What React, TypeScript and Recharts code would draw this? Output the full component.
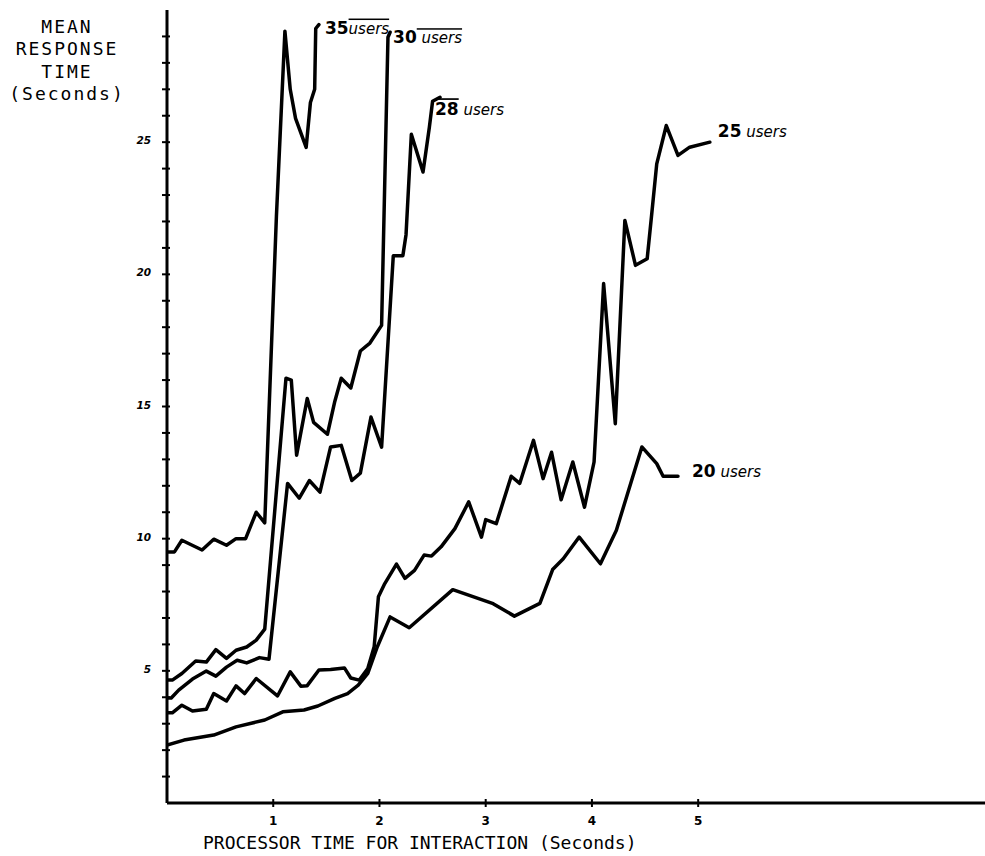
import React from 'react';
import { LineChart, Line, XAxis, YAxis, LabelList } from 'recharts';

// processor time (s) -> mean response time (s)
const users35: [number, number][] = [
  [0, 9.5], [0.07, 9.5], [0.14, 9.94], [0.33, 9.57], [0.44, 9.98], [0.56, 9.75], [0.65, 10.0],
  [0.74, 10.0], [0.84, 11.0], [0.92, 10.6], [1.03, 22.2], [1.11, 29.2], [1.16, 27.0], [1.21, 25.9],
  [1.31, 24.8], [1.35, 26.5], [1.39, 27.0], [1.4, 29.3], [1.43, 29.45],
];

const users30: [number, number][] = [
  [0, 4.65], [0.05, 4.65], [0.14, 4.9], [0.27, 5.37], [0.37, 5.33], [0.46, 5.8], [0.56, 5.47],
  [0.65, 5.78], [0.75, 5.9], [0.84, 6.16], [0.92, 6.58], [1.12, 16.07], [1.17, 16.0], [1.22, 13.16],
  [1.32, 15.3], [1.38, 14.4], [1.51, 13.95], [1.58, 15.2], [1.64, 16.07], [1.73, 15.7], [1.82, 17.1],
  [1.91, 17.4], [2.02, 18.07], [2.08, 28.97], [2.1, 29.16],
];

const users28: [number, number][] = [
  [0, 3.97], [0.04, 3.97], [0.11, 4.27], [0.24, 4.69], [0.37, 4.99], [0.46, 4.8], [0.56, 5.14],
  [0.66, 5.4], [0.75, 5.3], [0.87, 5.5], [0.96, 5.44], [1.135, 12.09], [1.245, 11.53], [1.34, 12.2],
  [1.44, 11.76], [1.54, 13.47], [1.64, 13.53], [1.74, 12.2], [1.82, 12.48], [1.92, 14.6], [2.02, 13.46],
  [2.13, 20.7], [2.22, 20.7], [2.25, 21.5], [2.3, 25.3], [2.41, 23.87], [2.47, 25.57], [2.5, 26.55],
  [2.57, 26.7],
];

const users25: [number, number][] = [
  [0, 3.41], [0.05, 3.41], [0.14, 3.7], [0.24, 3.48], [0.37, 3.55], [0.44, 4.14], [0.56, 3.86],
  [0.65, 4.43], [0.73, 4.14], [0.84, 4.71], [1.04, 4.05], [1.16, 4.96], [1.26, 4.42], [1.32, 4.44],
  [1.43, 5.03], [1.54, 5.05], [1.67, 5.11], [1.73, 4.73], [1.81, 4.65], [1.89, 5.09], [1.95, 5.91],
  [1.99, 7.8], [2.05, 8.3], [2.16, 9.04], [2.24, 8.5], [2.33, 8.8], [2.42, 9.38], [2.49, 9.34],
  [2.58, 9.69], [2.71, 10.38], [2.84, 11.39], [2.96, 10.06], [3.0, 10.72], [3.1, 10.57], [3.24, 12.36],
  [3.32, 12.09], [3.45, 13.72], [3.54, 12.27], [3.62, 13.27], [3.71, 11.47], [3.82, 12.9], [3.93, 11.19],
  [4.02, 12.9], [4.11, 19.65], [4.22, 14.35], [4.31, 22.04], [4.41, 20.34], [4.52, 20.59], [4.56, 22.17],
  [4.61, 24.18], [4.7, 25.63], [4.81, 24.5], [4.92, 24.81], [5.11, 25.0],
];

const users20: [number, number][] = [
  [0, 2.19], [0.16, 2.38], [0.44, 2.57], [0.65, 2.88], [0.92, 3.14], [1.09, 3.45], [1.29, 3.52],
  [1.42, 3.67], [1.58, 3.96], [1.7, 4.14], [1.8, 4.46], [1.89, 4.9], [1.98, 5.91], [2.1, 7.04],
  [2.28, 6.63], [2.69, 8.07], [3.07, 7.54], [3.27, 7.07], [3.51, 7.55], [3.63, 8.83], [3.73, 9.24],
  [3.88, 10.06], [4.08, 9.05], [4.23, 10.32], [4.47, 13.47], [4.61, 12.84], [4.67, 12.36], [4.81, 12.36],
];

const xTicks = [1, 2, 3, 4, 5];
const yTicks = [1, 2, 3, 4, 5, 6, 7, 8, 9, 10, 11, 12, 13, 14, 15, 16, 17, 18, 19, 20, 21, 22, 23, 24, 25, 26, 27, 28, 29];
const yLabelled = [5, 10, 15, 20, 25];

type SeriesDef = {
  count: string;
  points: [number, number][];
  dx: number;
  dy: number;
  gap: string;
  overNum?: boolean;
  overUsers?: boolean;
};

const series: SeriesDef[] = [
  { count: '35', points: users35, dx: 6, dy: 9, gap: '', overUsers: true },
  { count: '30', points: users30, dx: 3, dy: 11, gap: ' ', overUsers: true },
  { count: '28', points: users28, dx: -5, dy: 18, gap: ' ', overNum: true },
  { count: '25', points: users25, dx: 8, dy: -5, gap: ' ' },
  { count: '20', points: users20, dx: 14, dy: 1, gap: ' ' },
];

const hand = "'DejaVu Sans', sans-serif";
const mono = "'DejaVu Sans Mono', monospace";

const makeEndLabel = (s: SeriesDef) => (props: any) => {
  const { x, y, index } = props;
  if (index !== s.points.length - 1) return null;
  return (
    <text x={x + s.dx} y={y + s.dy} fill="#000" fontFamily={hand}>
      <tspan fontWeight={700} fontSize={17} style={s.overNum ? { textDecoration: 'overline' } : undefined}>
        {s.count}
      </tspan>
      <tspan fontStyle="italic" fontSize={15} style={s.overUsers ? { textDecoration: 'overline' } : undefined}>
        {s.gap + 'users'}
      </tspan>
    </text>
  );
};

const XTick = (props: any) => {
  const { x, y, payload } = props;
  return (
    <g>
      <line x1={x} y1={y - 4} x2={x} y2={y + 4} stroke="#000" strokeWidth={2} />
      <text x={x} y={y + 22} textAnchor="middle" fontFamily={hand} fontWeight={700} fontSize={12} fill="#000">
        {payload.value}
      </text>
    </g>
  );
};

const YTick = (props: any) => {
  const { x, y, payload } = props;
  return (
    <g>
      <line x1={x - 5} y1={y} x2={x + 3} y2={y} stroke="#000" strokeWidth={2} />
      {yLabelled.includes(payload.value) && (
        <text x={x - 16} y={y + 2} textAnchor="end" fontFamily={hand} fontWeight={700} fontStyle="italic" fontSize={10.5} fill="#000">
          {payload.value}
        </text>
      )}
    </g>
  );
};

export default function App() {
  return (
    <div style={{ position: 'absolute', left: 0, top: 0, width: 985, height: 856, background: '#fff' }}>
      <LineChart width={985} height={856} margin={{ top: 10, right: 0, bottom: 0, left: 0 }}>
        <XAxis
          type="number"
          dataKey="x"
          domain={[0, 7.7]}
          ticks={xTicks}
          tick={<XTick />}
          tickLine={false}
          tickSize={0}
          tickMargin={0}
          height={53}
          axisLine={{ stroke: '#000', strokeWidth: 3 }}
          allowDataOverflow
        />
        <YAxis
          type="number"
          domain={[0, 30]}
          ticks={yTicks}
          tick={<YTick />}
          tickLine={false}
          tickSize={0}
          tickMargin={0}
          width={167}
          interval={0}
          axisLine={{ stroke: '#000', strokeWidth: 3 }}
        />
        {series.map((s) => (
          <Line
            key={s.count}
            data={s.points.map(([x, y]) => ({ x, y }))}
            dataKey="y"
            type="linear"
            stroke="#000"
            strokeWidth={3.5}
            strokeLinejoin="round"
            strokeLinecap="round"
            dot={false}
            activeDot={false}
            isAnimationActive={false}
          >
            <LabelList dataKey="y" content={makeEndLabel(s)} />
          </Line>
        ))}
      </LineChart>
      <div
        style={{
          position: 'absolute', left: 0, top: 16, width: 134, textAlign: 'center',
          fontFamily: mono, fontSize: 18, lineHeight: '22.4px', letterSpacing: 2, color: '#000',
        }}
      >
        MEAN<br />RESPONSE<br />TIME<br />(Seconds)
      </div>
      <div
        style={{
          position: 'absolute', left: 203, top: 834, whiteSpace: 'nowrap',
          fontFamily: mono, fontSize: 18, lineHeight: '18px', color: '#000',
        }}
      >
        PROCESSOR TIME FOR INTERACTION (Seconds)
      </div>
    </div>
  );
}
